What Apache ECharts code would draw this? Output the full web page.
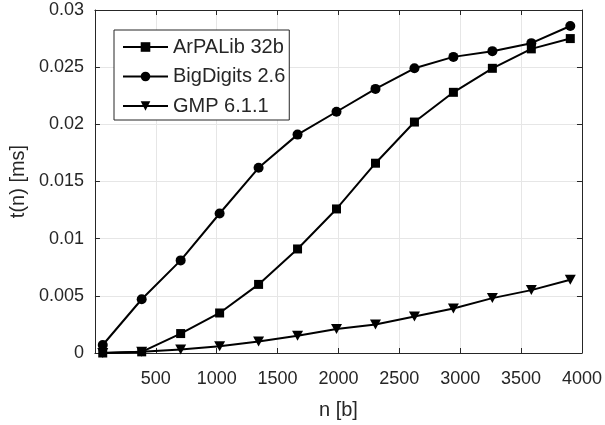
<!DOCTYPE html>
<html>
<head>
<meta charset="utf-8">
<script src="https://cdn.jsdelivr.net/npm/echarts@6/dist/echarts.min.js"></script>
<style>html,body{margin:0;padding:0;background:#fff;}#c{width:605px;height:425px;}</style>
</head>
<body>
<div id="c"></div>
<script>
var nValues = [64, 384, 704, 1024, 1344, 1664, 1984, 2304, 2624, 2944, 3264, 3584, 3904];
var arpalib = [0.0000, 0.0001, 0.0017, 0.0035, 0.0060, 0.0091, 0.0126, 0.0166, 0.0202, 0.0228, 0.0249, 0.0266, 0.0275];
var bigdigits = [0.0007, 0.0047, 0.0081, 0.0122, 0.0162, 0.0191, 0.0211, 0.0231, 0.0249, 0.0259, 0.0264, 0.0271, 0.0286];
var gmp = [0.0000, 0.0001, 0.0003, 0.0006, 0.0010, 0.0015, 0.0021, 0.0025, 0.0032, 0.0039, 0.0048, 0.0055, 0.0064];
var seriesNames = ['ArPALib 32b', 'BigDigits 2.6', 'GMP 6.1.1'];

function pairs(ys) { return nValues.map(function (x, i) { return [x, ys[i]]; }); }

var font = 'Liberation Sans, Arial, Helvetica, sans-serif';
var axisColor = '#262626';
var tri = 'path://M0,0 L10,0 L5,9 Z';

var chart = echarts.init(document.getElementById('c'), null, { renderer: 'canvas' });
var baseSeries = { type: 'line', lineStyle: { color: '#000', width: 2 }, itemStyle: { color: '#000' }, color: '#000', z: 3 };
chart.setOption({
  animation: false,
  backgroundColor: '#fff',
  textStyle: { fontFamily: font },
  grid: { left: 94, right: 21, top: 10, bottom: 68, containLabel: false },
  legend: {
    orient: 'vertical', left: 114, top: 30,
    data: seriesNames,
    backgroundColor: '#fff', borderColor: axisColor, borderWidth: 1, borderRadius: 0,
    padding: [7, 4, 4, 8], itemGap: 9.5, itemWidth: 45, itemHeight: 12,
    textStyle: { fontSize: 20, color: axisColor, fontFamily: font, lineHeight: 20 },
    z: 10
  },
  xAxis: [{
    type: 'value', min: 0, max: 4000, interval: 500,
    name: 'n [b]', nameLocation: 'middle', nameGap: 47,
    nameTextStyle: { fontSize: 20, color: axisColor, fontFamily: font },
    axisLine: { show: true, onZero: false, lineStyle: { color: axisColor, width: 1 } },
    axisTick: { show: true, inside: true, length: 5, lineStyle: { color: axisColor } },
    axisLabel: { fontSize: 18, color: axisColor, margin: 17, fontFamily: font,
      formatter: function (v) { return v === 0 ? '' : String(v); } },
    splitLine: { show: true, lineStyle: { color: '#e6e6e6', width: 1 } }
  }, {
    type: 'value', position: 'top', min: 0, max: 4000, interval: 500,
    axisLine: { show: true, onZero: false, lineStyle: { color: axisColor, width: 1 } },
    axisTick: { show: true, inside: true, length: 5, lineStyle: { color: axisColor } },
    axisLabel: { show: false }, splitLine: { show: false }
  }],
  yAxis: [{
    type: 'value', min: 0, max: 0.03, interval: 0.005,
    name: 't(n) [ms]', nameLocation: 'middle', nameGap: 66, nameRotate: 90,
    nameTextStyle: { fontSize: 20, color: axisColor, fontFamily: font },
    axisLine: { show: true, onZero: false, lineStyle: { color: axisColor, width: 1 } },
    axisTick: { show: true, inside: true, length: 5, lineStyle: { color: axisColor } },
    axisLabel: { fontSize: 18, color: axisColor, margin: 11, fontFamily: font },
    splitLine: { show: true, lineStyle: { color: '#e6e6e6', width: 1 } }
  }, {
    type: 'value', position: 'right', min: 0, max: 0.03, interval: 0.005,
    axisLine: { show: true, onZero: false, lineStyle: { color: axisColor, width: 1 } },
    axisTick: { show: true, inside: true, length: 5, lineStyle: { color: axisColor } },
    axisLabel: { show: false }, splitLine: { show: false }
  }],
  series: [
    Object.assign({}, baseSeries, { name: seriesNames[0], data: pairs(arpalib), symbol: 'rect', symbolSize: 9 }),
    Object.assign({}, baseSeries, { name: seriesNames[1], data: pairs(bigdigits), symbol: 'circle', symbolSize: 10 }),
    Object.assign({}, baseSeries, { name: seriesNames[2], data: pairs(gmp), symbol: tri, symbolSize: [11, 10] })
  ]
});
</script>
</body>
</html>
